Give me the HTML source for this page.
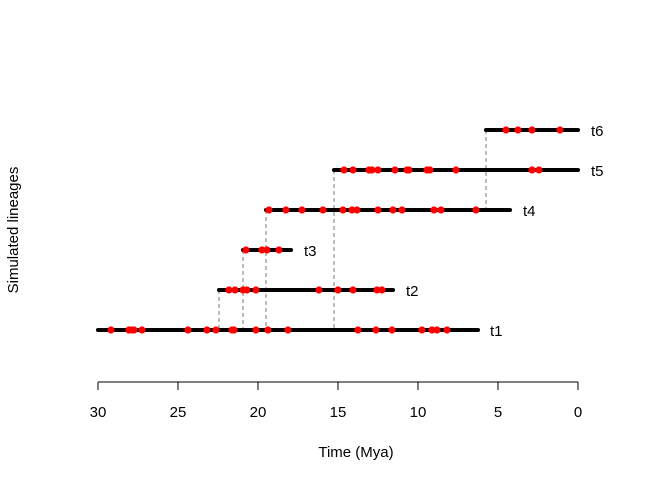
<!DOCTYPE html>
<html><head><meta charset="utf-8"><style>body{margin:0;background:#fff}</style></head><body>
<svg width="672" height="480" xmlns="http://www.w3.org/2000/svg" font-family="Liberation Sans, sans-serif">
<g stroke="#777" stroke-width="1" stroke-dasharray="4,3">
<line x1="219" y1="290" x2="219" y2="330"/>
<line x1="243" y1="250" x2="243" y2="330"/>
<line x1="266" y1="210" x2="266" y2="330"/>
<line x1="334" y1="170" x2="334" y2="330"/>
<line x1="486" y1="130" x2="486" y2="210"/>
</g>
<g stroke="#000" stroke-width="4" stroke-linecap="round">
<line x1="98" y1="330" x2="478" y2="330"/>
<line x1="219" y1="290" x2="393" y2="290"/>
<line x1="243" y1="250" x2="291" y2="250"/>
<line x1="266" y1="210" x2="510" y2="210"/>
<line x1="334" y1="170" x2="578" y2="170"/>
<line x1="486" y1="130" x2="578" y2="130"/>
</g>
<g fill="#f00">
<circle cx="111" cy="330" r="3.6"/><circle cx="129" cy="330" r="3.6"/><circle cx="132" cy="330" r="3.6"/><circle cx="134" cy="330" r="3.6"/><circle cx="142" cy="330" r="3.6"/><circle cx="188" cy="330" r="3.6"/><circle cx="207" cy="330" r="3.6"/><circle cx="216" cy="330" r="3.6"/><circle cx="232" cy="330" r="3.6"/><circle cx="234" cy="330" r="3.6"/><circle cx="256" cy="330" r="3.6"/><circle cx="268" cy="330" r="3.6"/><circle cx="288" cy="330" r="3.6"/><circle cx="358" cy="330" r="3.6"/><circle cx="376" cy="330" r="3.6"/><circle cx="392" cy="330" r="3.6"/><circle cx="422" cy="330" r="3.6"/><circle cx="432" cy="330" r="3.6"/><circle cx="437" cy="330" r="3.6"/><circle cx="447" cy="330" r="3.6"/>
<circle cx="229" cy="290" r="3.6"/><circle cx="235" cy="290" r="3.6"/><circle cx="243" cy="290" r="3.6"/><circle cx="247" cy="290" r="3.6"/><circle cx="256" cy="290" r="3.6"/><circle cx="319" cy="290" r="3.6"/><circle cx="338" cy="290" r="3.6"/><circle cx="353" cy="290" r="3.6"/><circle cx="377" cy="290" r="3.6"/><circle cx="382" cy="290" r="3.6"/>
<circle cx="246" cy="250" r="3.6"/><circle cx="262" cy="250" r="3.6"/><circle cx="267" cy="250" r="3.6"/><circle cx="279" cy="250" r="3.6"/>
<circle cx="269" cy="210" r="3.6"/><circle cx="286" cy="210" r="3.6"/><circle cx="302" cy="210" r="3.6"/><circle cx="323" cy="210" r="3.6"/><circle cx="343" cy="210" r="3.6"/><circle cx="352" cy="210" r="3.6"/><circle cx="357" cy="210" r="3.6"/><circle cx="378" cy="210" r="3.6"/><circle cx="393" cy="210" r="3.6"/><circle cx="402" cy="210" r="3.6"/><circle cx="434" cy="210" r="3.6"/><circle cx="441" cy="210" r="3.6"/><circle cx="476" cy="210" r="3.6"/>
<circle cx="344" cy="170" r="3.6"/><circle cx="353" cy="170" r="3.6"/><circle cx="369" cy="170" r="3.6"/><circle cx="372" cy="170" r="3.6"/><circle cx="378" cy="170" r="3.6"/><circle cx="395" cy="170" r="3.6"/><circle cx="407" cy="170" r="3.6"/><circle cx="409" cy="170" r="3.6"/><circle cx="427" cy="170" r="3.6"/><circle cx="430" cy="170" r="3.6"/><circle cx="456" cy="170" r="3.6"/><circle cx="532" cy="170" r="3.6"/><circle cx="539" cy="170" r="3.6"/>
<circle cx="506" cy="130" r="3.6"/><circle cx="518" cy="130" r="3.6"/><circle cx="532" cy="130" r="3.6"/><circle cx="560" cy="130" r="3.6"/>
</g>
<g font-size="15" fill="#000">
<text x="490" y="336">t1</text><text x="406" y="296">t2</text><text x="304" y="256">t3</text>
<text x="523" y="216">t4</text><text x="591" y="176">t5</text><text x="591" y="136">t6</text>
</g>
<g stroke="#000" stroke-width="1">
<line x1="98" y1="382" x2="578" y2="382"/>
<line x1="98" y1="382" x2="98" y2="390"/><line x1="178" y1="382" x2="178" y2="390"/>
<line x1="258" y1="382" x2="258" y2="390"/><line x1="338" y1="382" x2="338" y2="390"/>
<line x1="418" y1="382" x2="418" y2="390"/><line x1="498" y1="382" x2="498" y2="390"/>
<line x1="578" y1="382" x2="578" y2="390"/>
</g>
<g font-size="15" text-anchor="middle">
<text x="98" y="417">30</text><text x="178" y="417">25</text><text x="258" y="417">20</text>
<text x="338" y="417">15</text><text x="418" y="417">10</text><text x="498" y="417">5</text><text x="578" y="417">0</text>
<text x="356" y="457">Time (Mya)</text>
<text transform="translate(18,230) rotate(-90)">Simulated lineages</text>
</g>
</svg>
</body></html>
